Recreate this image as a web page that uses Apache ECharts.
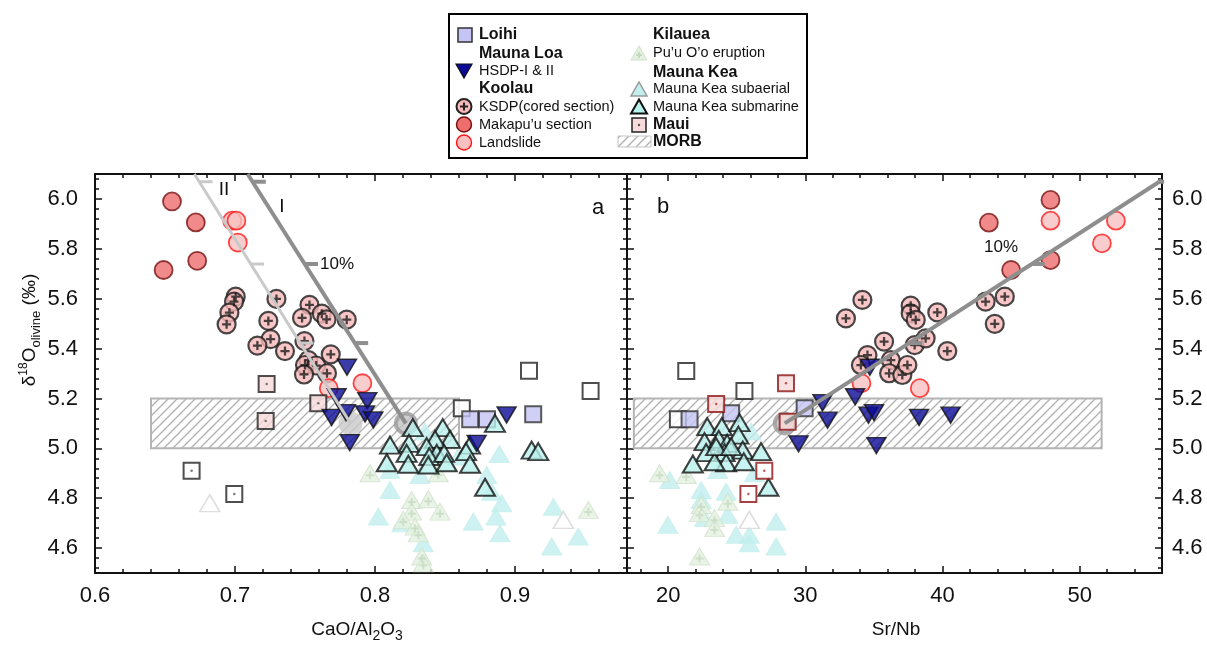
<!DOCTYPE html>
<html>
<head>
<meta charset="utf-8">
<script src="https://cdn.jsdelivr.net/npm/echarts@6/dist/echarts.min.js"></script>
<style>
  html, body { margin: 0; padding: 0; background: #fff; }
  #chart { width: 1207px; height: 645px; }
</style>
</head>
<body>
<div id="chart"></div>
<script>
// ---- tick labels ----
const ticksCaO = [0.6, 0.7, 0.8, 0.9];
const ticksSrNb = [20, 30, 40, 50];
const ticksO = [4.6, 4.8, 5.0, 5.2, 5.4, 5.6, 5.8, 6.0];

// ---- panel a: CaO/Al2O3 vs d18O ----
const loihiA = [[0.868, 5.117], [0.880, 5.117], [0.913, 5.137]];
const openSquareA = [[0.910, 5.311], [0.954, 5.230], [0.862, 5.161]];
const mauiA = [[0.7226, 5.258], [0.7219, 5.110], [0.7595, 5.181]];
const mauiOpenA = [[0.669, 4.910], [0.6995, 4.817]];
const hsdpA = [[0.780, 5.325], [0.7726, 5.207], [0.7793, 5.143], [0.769, 5.124], [0.7945, 5.191],
  [0.7929, 5.138], [0.7988, 5.114], [0.782, 5.023], [0.894, 5.134], [0.8726, 5.020]];
const ksdpA = [[0.7005, 5.608], [0.6993, 5.588], [0.696, 5.544], [0.694, 5.497], [0.7296, 5.599],
  [0.7238, 5.511], [0.7254, 5.438], [0.716, 5.412], [0.7357, 5.390], [0.7532, 5.575],
  [0.7479, 5.523], [0.762, 5.540], [0.7654, 5.517], [0.7798, 5.516], [0.7496, 5.430],
  [0.7684, 5.377], [0.7524, 5.354], [0.750, 5.334], [0.758, 5.332], [0.7493, 5.296], [0.7657, 5.301]];
const makapuuA = [[0.655, 5.990], [0.672, 5.906], [0.673, 5.752], [0.649, 5.715]];
const landslideA = [[0.698, 5.913], [0.701, 5.913], [0.702, 5.825], [0.767, 5.241], [0.791, 5.261]];
const submarineA = [[0.827, 5.083], [0.8484, 5.083], [0.8536, 5.036], [0.8429, 5.036], [0.8107, 5.013],
  [0.8243, 5.020], [0.8369, 5.007], [0.8441, 4.980], [0.8226, 4.980], [0.8388, 4.967],
  [0.8493, 4.980], [0.8679, 5.013], [0.865, 4.987], [0.8857, 5.100], [0.9119, 4.993],
  [0.9166, 4.987], [0.8084, 4.942], [0.8238, 4.936], [0.8381, 4.933], [0.8512, 4.942],
  [0.8679, 4.936], [0.8786, 4.844]];
const subaerialA = [[0.8357, 5.067], [0.8107, 4.913], [0.8321, 4.893], [0.8595, 4.967], [0.8888, 4.977],
  [0.8107, 4.833], [0.8798, 4.893], [0.8834, 4.826], [0.8024, 4.726], [0.8191, 4.699],
  [0.8702, 4.706], [0.8864, 4.726], [0.8905, 4.780], [0.8893, 4.659], [0.9274, 4.766],
  [0.9452, 4.646], [0.9262, 4.606], [0.8345, 4.619]];
const puuOoA = [[0.7964, 4.900], [0.8452, 4.900], [0.8262, 4.793], [0.8381, 4.796], [0.8464, 4.746],
  [0.8262, 4.746], [0.8202, 4.713], [0.8286, 4.686], [0.8309, 4.659], [0.8334, 4.566],
  [0.8345, 4.539], [0.9524, 4.753]];
const openTriA = [[0.682, 4.780], [0.9345, 4.713]];
const morbA = [[0.64, 0.86, 5.0, 5.2]];
const mixLineIA = [[0.709, 6.1], [0.822, 5.10]];
const mixLineIIA = [[0.671, 6.1], [0.7825, 5.10]];

// ---- panel b: Sr/Nb vs d18O ----
const loihiB = [[21.56, 5.117], [24.59, 5.141], [29.95, 5.161]];
const openSquareB = [[21.32, 5.310], [25.56, 5.230], [20.71, 5.117]];
const mauiB = [[28.59, 5.261], [23.50, 5.178], [28.71, 5.107]];
const mauiOpenB = [[27.01, 4.910], [25.85, 4.817]];
const hsdpB = [[34.70, 5.325], [31.25, 5.183], [33.63, 5.207], [31.62, 5.113], [34.60, 5.133],
  [35.01, 5.143], [38.29, 5.124], [40.59, 5.133], [29.51, 5.018], [35.18, 5.011]];
const ksdpB = [[34.16, 5.595], [32.96, 5.521], [34.53, 5.374], [34.05, 5.334], [35.74, 5.428],
  [36.23, 5.354], [36.11, 5.301], [37.07, 5.294], [37.44, 5.334], [37.97, 5.414],
  [37.68, 5.572], [37.68, 5.541], [38.05, 5.515], [38.77, 5.441], [39.62, 5.545],
  [40.35, 5.390], [43.14, 5.588], [44.54, 5.608], [43.81, 5.499]];
const makapuuB = [[47.87, 5.996], [43.38, 5.905], [47.87, 5.755], [45.00, 5.715]];
const landslideB = [[47.87, 5.913], [52.64, 5.913], [51.62, 5.822], [38.34, 5.241], [34.09, 5.261]];
const submarineB = [[22.85, 5.087], [23.91, 5.087], [25.20, 5.103], [22.65, 5.027], [23.69, 5.036],
  [24.30, 5.020], [25.12, 5.053], [22.77, 4.983], [24.11, 4.983], [25.44, 4.993],
  [26.77, 4.987], [21.80, 4.937], [24.23, 4.942], [25.51, 4.946], [23.38, 4.946],
  [27.31, 4.844], [23.50, 5.007], [24.59, 5.007]];
const subaerialB = [[26.05, 5.067], [20.11, 4.873], [22.41, 4.833], [24.23, 4.826], [22.41, 4.793],
  [24.35, 4.733], [19.98, 4.693], [22.65, 4.720], [24.96, 4.653], [25.92, 4.653],
  [27.87, 4.706], [27.87, 4.606], [25.92, 4.619], [23.62, 4.913], [26.29, 4.900]];
const puuOoB = [[19.38, 4.900], [21.32, 4.893], [22.41, 4.773], [22.29, 4.740], [24.35, 4.786],
  [23.38, 4.720], [23.38, 4.680], [22.29, 4.566]];
const openTriB = [[25.92, 4.713]];
const morbB = [[17.5, 51.6, 5.0, 5.2]];
const mixLineB = [[28.5, 5.10], [56, 6.076]];

// mixing-line increments (d18O levels where the short marks sit)
const mixTickO = [6.069, 5.739, 5.422];

// ---------------------------------------------------------------
const FONT = '"Liberation Sans", Arial, Helvetica, sans-serif';
const INK = '#111';

function minorList(lo, hi, step, majors) {
  const out = [];
  for (let v = lo; v < hi + 1e-9; v += step) {
    const r = Math.round(v * 1000) / 1000;
    if (!majors.some(m => Math.abs(m - r) < 1e-6)) out.push(r);
  }
  return out;
}
const minorCaO = minorList(0.62, 0.96, 0.02, ticksCaO);
const minorSrNb = minorList(18, 54, 2, ticksSrNb);
const minorO = minorList(4.52, 6.08, 0.04, ticksO);

function hatchCanvas() {
  const c = document.createElement('canvas');
  c.width = 9; c.height = 9;
  const g = c.getContext('2d');
  g.strokeStyle = '#b0b0b0';
  g.lineWidth = 1.3;
  g.beginPath();
  g.moveTo(-1, 10); g.lineTo(10, -1);
  g.moveTo(-1, 1); g.lineTo(1, -1);
  g.moveTo(8, 10); g.lineTo(10, 8);
  g.stroke();
  return c;
}
const HATCH = { image: hatchCanvas(), repeat: 'repeat' };
const PLUS = 'path://M3,0H5V3H8V5H5V8H3V5H0V3H3Z';

// ---- axes ----
const TICK_FONT = 22;
function xAxes(grid, min, max, majors, minors, fmt) {
  const base = { type: 'value', gridIndex: grid, min, max, splitLine: { show: false }, axisPointer: { show: false } };
  const line = { show: true, onZero: false, lineStyle: { color: INK, width: 2 } };
  return [
    Object.assign({}, base, { position: 'bottom', axisLine: line,
      axisTick: { show: true, inside: true, length: 7, customValues: majors, lineStyle: { color: INK, width: 1.5 } },
      axisLabel: { show: true, customValues: majors, formatter: fmt, margin: 12, fontSize: TICK_FONT, color: INK, fontFamily: FONT } }),
    Object.assign({}, base, { position: 'bottom', axisLine: { show: false, onZero: false },
      axisTick: { show: true, inside: true, length: 4, customValues: minors, lineStyle: { color: INK, width: 1.5 } },
      axisLabel: { show: false } }),
    Object.assign({}, base, { position: 'top', axisLine: line,
      axisTick: { show: true, inside: true, length: 7, customValues: majors, lineStyle: { color: INK, width: 1.5 } },
      axisLabel: { show: false } }),
    Object.assign({}, base, { position: 'top', axisLine: { show: false, onZero: false },
      axisTick: { show: true, inside: true, length: 4, customValues: minors, lineStyle: { color: INK, width: 1.5 } },
      axisLabel: { show: false } })
  ];
}
function yAxes(grid, labelSide) {
  const base = { type: 'value', gridIndex: grid, min: 4.5, max: 6.1, splitLine: { show: false }, axisPointer: { show: false } };
  const line = { show: true, onZero: false, lineStyle: { color: INK, width: 2 } };
  const lab = side => ({ show: side === labelSide, customValues: ticksO, formatter: v => v.toFixed(1),
    margin: side === 'left' ? 17 : 10, fontSize: TICK_FONT, color: INK, fontFamily: FONT });
  return [
    Object.assign({}, base, { position: 'left', axisLine: line,
      axisTick: { show: true, inside: true, length: 7, customValues: ticksO, lineStyle: { color: INK, width: 1.5 } },
      axisLabel: lab('left') }),
    Object.assign({}, base, { position: 'left', axisLine: { show: false, onZero: false },
      axisTick: { show: true, inside: true, length: 4, customValues: minorO, lineStyle: { color: INK, width: 1.5 } },
      axisLabel: { show: false } }),
    Object.assign({}, base, { position: 'right', axisLine: line,
      axisTick: { show: true, inside: true, length: 7, customValues: ticksO, lineStyle: { color: INK, width: 1.5 } },
      axisLabel: lab('right') }),
    Object.assign({}, base, { position: 'right', axisLine: { show: false, onZero: false },
      axisTick: { show: true, inside: true, length: 4, customValues: minorO, lineStyle: { color: INK, width: 1.5 } },
      axisLabel: { show: false } })
  ];
}

// ---- series helpers ----
function pts(data, panel, style) {
  return Object.assign({ type: 'scatter', data, xAxisIndex: panel * 4, yAxisIndex: panel * 4,
    silent: true, animation: false }, style);
}
function seg(data, panel, color, width, clip) {
  return { type: 'line', data, xAxisIndex: panel * 4, yAxisIndex: panel * 4, showSymbol: false,
    symbol: 'none', silent: true, animation: false, clip: clip !== false,
    lineStyle: { color, width, cap: 'butt' } };
}
function xOnLine(line, y) {
  const [p, q] = line;
  return p[0] + (q[0] - p[0]) * (y - p[1]) / (q[1] - p[1]);
}
function lineTicks(line, panel, color, width, len) {
  return mixTickO.map(y => {
    const x = xOnLine(line, y);
    return seg([[x, y], [x + len, y]], panel, color, width, false);
  });
}
function morb(data, panel) {
  return {
    type: 'custom', data, xAxisIndex: panel * 4, yAxisIndex: panel * 4, silent: true, animation: false,
    encode: { x: [0, 1], y: [2, 3] },
    renderItem: (params, api) => {
      const p0 = api.coord([api.value(0), api.value(3)]);
      const p1 = api.coord([api.value(1), api.value(2)]);
      return { type: 'rect', shape: { x: p0[0], y: p0[1], width: p1[0] - p0[0], height: p1[1] - p0[1] },
        style: { fill: HATCH, stroke: '#b4b4b4', lineWidth: 2 } };
    }
  };
}

const TRI = [20, 17];
const ST = {
  puuOo: { symbol: 'triangle', symbolSize: TRI, itemStyle: { color: '#e4f1e0', borderColor: '#d0e1cb', borderWidth: 1 } },
  puuPlus: { symbol: PLUS, symbolSize: 8, symbolOffset: [0, 2], itemStyle: { color: '#c6dac0' } },
  subaerial: { symbol: 'triangle', symbolSize: TRI, itemStyle: { color: '#c0efed', borderColor: '#c4eeec', borderWidth: 1 } },
  openTri: { symbol: 'triangle', symbolSize: TRI, itemStyle: { color: '#ffffff', borderColor: '#d6d6d6', borderWidth: 1.5 } },
  openSq: { symbol: 'rect', symbolSize: 16, itemStyle: { color: '#ffffff', borderColor: '#222', borderWidth: 2 } },
  loihi: { symbol: 'rect', symbolSize: 16, itemStyle: { color: '#c4c4f5', borderColor: '#333', borderWidth: 2 } },
  submarine: { symbol: 'triangle', symbolSize: TRI, itemStyle: { color: '#b9f1ec', borderColor: '#111', borderWidth: 2 } },
  ksdp: { symbol: 'circle', symbolSize: 18, itemStyle: { color: '#f6b8b8', borderColor: '#1c1c1c', borderWidth: 2.2 } },
  ksdpPlus: { symbol: PLUS, symbolSize: 9, itemStyle: { color: '#1c1c1c' } },
  makapuu: { symbol: 'circle', symbolSize: 18, itemStyle: { color: '#ee6e6e', borderColor: '#761010', borderWidth: 1.8 } },
  landslide: { symbol: 'circle', symbolSize: 18, itemStyle: { color: '#f8c0c0', borderColor: '#ff1a1a', borderWidth: 1.8 } },
  hsdp: { symbol: 'triangle', symbolRotate: 180, symbolSize: [19, 16], itemStyle: { color: '#0a0a96', borderColor: '#111', borderWidth: 1.5 } },
  ring: { symbol: 'circle', symbolSize: 20, itemStyle: { color: '#c4c4c4', borderColor: '#9a9a9a', borderWidth: 4 } },
  disc: { symbol: 'circle', symbolSize: 24, itemStyle: { color: '#c9c9c9' } }
};
function mauiStyle(border, fill) {
  return { symbol: 'rect', symbolSize: 16, itemStyle: { color: fill, borderColor: border, borderWidth: 2 } };
}
function dotStyle(color) {
  return { symbol: 'circle', symbolSize: 2.5, itemStyle: { color } };
}

function panelSeries(p, d) {
  return [
    morb(d.morb, p),
    ...d.lines.map(l => seg(l.data, p, l.color, l.width)),
    ...d.lines.flatMap(l => lineTicks(l.data, p, l.color, l.width, d.tickLen)),
    ...d.rings.map(r => pts([r], p, ST.ring)),
    ...d.discs.map(r => pts([r], p, ST.disc)),
    pts(d.subaerial, p, ST.subaerial),
    pts(d.puuOo, p, ST.puuOo),
    pts(d.puuOo, p, ST.puuPlus),
    pts(d.openTri, p, ST.openTri),
    pts(d.openSq, p, ST.openSq),
    pts(d.loihi, p, ST.loihi),
    pts(d.submarine, p, ST.submarine),
    pts(d.ksdp, p, ST.ksdp),
    pts(d.ksdp, p, ST.ksdpPlus),
    pts(d.makapuu, p, ST.makapuu),
    pts(d.landslide, p, ST.landslide),
    pts(d.mauiOpen, p, mauiStyle(d.mauiBorder, '#ffffff')),
    pts(d.mauiOpen, p, dotStyle(d.mauiDot)),
    pts(d.maui, p, mauiStyle(d.mauiBorder, '#f8dada')),
    pts(d.maui, p, dotStyle(d.mauiDot)),
    pts(d.hsdp, p, ST.hsdp)
  ];
}

const series = [
  ...panelSeries(0, {
    morb: morbA, tickLen: 0.0095,
    lines: [{ data: mixLineIIA, color: '#c9c9c9', width: 3 }, { data: mixLineIA, color: '#8e8e8e', width: 4 }],
    rings: [mixLineIA[1]], discs: [mixLineIIA[1]],
    subaerial: subaerialA, puuOo: puuOoA, openTri: openTriA, openSq: openSquareA, loihi: loihiA,
    submarine: submarineA, ksdp: ksdpA, makapuu: makapuuA, landslide: landslideA,
    mauiOpen: mauiOpenA, maui: mauiA, mauiBorder: '#222', mauiDot: '#555', hsdp: hsdpA
  }),
  ...panelSeries(1, {
    morb: morbB, tickLen: 0.95,
    lines: [{ data: mixLineB, color: '#8e8e8e', width: 4 }],
    rings: [mixLineB[0]], discs: [],
    subaerial: subaerialB, puuOo: puuOoB, openTri: openTriB, openSq: openSquareB, loihi: loihiB,
    submarine: submarineB, ksdp: ksdpB, makapuu: makapuuB, landslide: landslideB,
    mauiOpen: mauiOpenB, maui: mauiB, mauiBorder: '#8c1414', mauiDot: '#b03030', hsdp: hsdpB
  })
];

// ---- legend and annotations ----
function txt(x, y, text, size, bold, align) {
  return { type: 'text', x, y, silent: true, z: 100,
    style: { text, fontSize: size, fontWeight: bold ? 'bold' : 'normal', fontFamily: FONT,
      fill: INK, align: align || 'left', verticalAlign: 'middle' } };
}
function tri(cx, cy, fill, stroke, lw, down) {
  const h = 14, w = 16;
  const pts = down ? [[cx - w / 2, cy - h / 2], [cx + w / 2, cy - h / 2], [cx, cy + h / 2]]
                   : [[cx, cy - h / 2], [cx + w / 2, cy + h / 2], [cx - w / 2, cy + h / 2]];
  return { type: 'polygon', shape: { points: pts }, style: { fill, stroke, lineWidth: lw }, z: 100, silent: true };
}
function circ(cx, cy, fill, stroke, lw) {
  return { type: 'circle', shape: { cx, cy, r: 7.5 }, style: { fill, stroke, lineWidth: lw }, z: 100, silent: true };
}
function box(x, y, w, h, fill, stroke, lw) {
  return { type: 'rect', shape: { x, y, width: w, height: h }, style: { fill, stroke, lineWidth: lw }, z: 100, silent: true };
}
function plus(cx, cy, color, s) {
  return [box(cx - s / 2, cy - 1, s, 2, color, null, 0), box(cx - 1, cy - s / 2, 2, s, color, null, 0)];
}

const legend = [
  box(449, 14, 358, 144, '#ffffff', '#000', 2),
  box(458, 28, 14, 14, '#c4c4f5', '#333', 1.5), txt(479, 35, 'Loihi', 16, true),
  txt(479, 54, 'Mauna Loa', 16, true),
  tri(464, 71, '#0a0a96', '#111', 1.2, true), txt(479, 71, 'HSDP-I & II', 14.5),
  txt(479, 89, 'Koolau', 16, true),
  circ(464, 106.5, '#f6b8b8', '#222', 2), ...plus(464, 106.5, '#222', 8), txt(479, 106.5, 'KSDP(cored section)', 14.5),
  circ(464, 124.5, '#ee6e6e', '#761010', 1.5), txt(479, 124.5, 'Makapu’u section', 14.5),
  circ(464, 142.5, '#f8c0c0', '#ff1a1a', 1.5), txt(479, 142.5, 'Landslide', 14.5),
  txt(653, 35, 'Kilauea', 16, true),
  tri(639, 53, '#e4f1e0', '#d0e1cb', 1), ...plus(639, 55, '#c6dac0', 6), txt(653, 53, 'Pu’u O’o eruption', 14.5),
  txt(653, 72.5, 'Mauna Kea', 16, true),
  tri(639, 89, '#c0efed', '#999', 1.5), txt(653, 89, 'Mauna Kea subaerial', 14.5),
  tri(639, 106.5, '#b9f1ec', '#111', 2), txt(653, 106.5, 'Mauna Kea submarine', 14.5),
  box(632, 118, 14, 14, '#f8dada', '#222', 1.5), { type: 'circle', shape: { cx: 639, cy: 125, r: 1.2 }, style: { fill: '#555' }, z: 101, silent: true },
  txt(653, 125, 'Maui', 16, true),
  box(618, 136, 33, 11, HATCH, '#c4c4c4', 1), txt(653, 142, 'MORB', 16, true)
];

const notes = [
  txt(224, 190, 'II', 19, false, 'center'),
  txt(282, 207, 'I', 19, false, 'center'),
  txt(320, 264, '10%', 17),
  txt(1001, 247, '10%', 17, false, 'center'),
  txt(598, 208, 'a', 22, false, 'center'),
  txt(663, 207, 'b', 22, false, 'center'),
  { type: 'text', x: 30, y: 330, rotation: Math.PI / 2, silent: true, z: 100,
    style: { text: '{m|δ}{sup|18}{m|O}{sub|olivine}{m| (‰)}', align: 'center', verticalAlign: 'middle',
      fill: INK, fontFamily: FONT,
      rich: { m: { fontSize: 19, fontFamily: FONT, fill: INK },
              sup: { fontSize: 12, padding: [0, 0, 12, 0], fontFamily: FONT, fill: INK },
              sub: { fontSize: 13, padding: [12, 0, 0, 0], fontFamily: FONT, fill: INK } } } },
  { type: 'text', x: 357, y: 630, silent: true, z: 100,
    style: { text: '{m|CaO/Al}{s|2}{m|O}{s|3}', align: 'center', verticalAlign: 'middle', fill: INK, fontFamily: FONT,
      rich: { m: { fontSize: 19, fontFamily: FONT, fill: INK },
              s: { fontSize: 14, padding: [12, 0, 0, 0], fontFamily: FONT, fill: INK } } } },
  { type: 'text', x: 896, y: 630, silent: true, z: 100,
    style: { text: 'Sr/Nb', align: 'center', verticalAlign: 'middle', fill: INK, fontFamily: FONT, fontSize: 19 } }
];

const chart = echarts.init(document.getElementById('chart'), null, { renderer: 'canvas' });
chart.setOption({
  animation: false,
  backgroundColor: '#ffffff',
  textStyle: { fontFamily: FONT },
  grid: [
    { left: 95, top: 174, width: 532, height: 399, containLabel: false },
    { left: 627, top: 174, width: 535, height: 399, containLabel: false }
  ],
  xAxis: [
    ...xAxes(0, 0.6, 0.98, ticksCaO, minorCaO, v => v.toFixed(1)),
    ...xAxes(1, 17, 56, ticksSrNb, minorSrNb, v => String(Math.round(v)))
  ],
  yAxis: [...yAxes(0, 'left'), ...yAxes(1, 'right')],
  series,
  graphic: [...legend, ...notes]
});
</script>
</body>
</html>
